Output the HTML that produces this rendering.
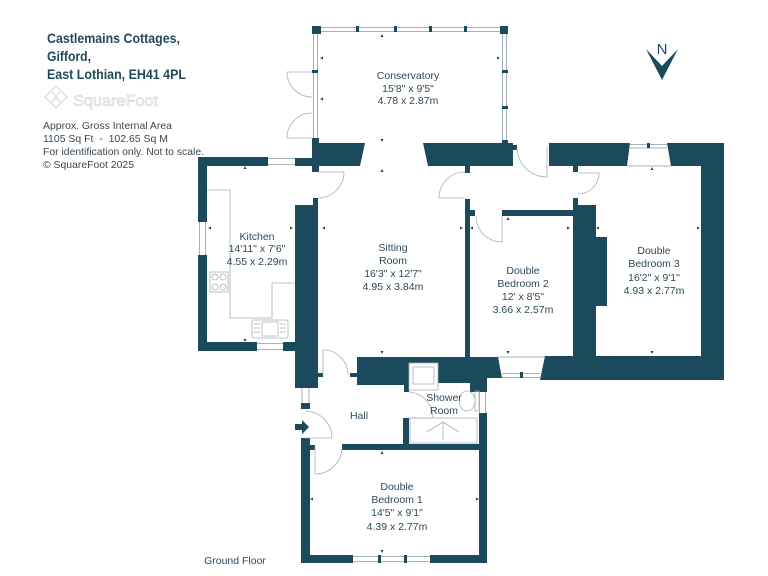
<!DOCTYPE html>
<html><head><meta charset="utf-8"><style>
html,body{margin:0;padding:0;background:#fff;}
svg{display:block;}
text{font-family:"Liberation Sans",Arial,sans-serif;}
.r{font-size:10.5px;fill:#2c4a59;text-anchor:middle;}
.s{font-size:10.5px;fill:#3a4852;}
.t{font-size:14px;font-weight:bold;fill:#1f4a5c;}
.d{fill:none;stroke:#a7b0b5;stroke-width:0.8;}
.g{fill:none;stroke:#8d9ba3;stroke-width:0.8;}
.w{fill:#1b4a5d;}
.k{fill:#1b4a5d;}
</style></head><body>
<svg width="768" height="576" viewBox="0 0 768 576" xmlns="http://www.w3.org/2000/svg">
<rect x="0" y="0" width="768" height="576" fill="#fff"/>

<!-- Title -->
<text class="t" x="47" y="43" textLength="133" lengthAdjust="spacingAndGlyphs">Castlemains Cottages,</text>
<text class="t" x="47" y="61" textLength="44" lengthAdjust="spacingAndGlyphs">Gifford,</text>
<text class="t" x="47" y="79" textLength="139" lengthAdjust="spacingAndGlyphs">East Lothian, EH41 4PL</text>

<!-- logo -->
<g fill="none" stroke="#d9dfe2" stroke-width="1.2">
<polygon points="56,86 67,97 56,108 45,97"/>
<polygon points="51,91 57,97 51,103 45,97"/>
<polygon points="61,91 67,97 61,103 55,97"/>
</g>
<text x="73" y="106" style="font-size:16px;fill:#f3f5f6;stroke:#d3dadd;stroke-width:0.7" textLength="85" lengthAdjust="spacingAndGlyphs">SquareFoot</text>

<text class="s" x="43" y="129" textLength="129" lengthAdjust="spacingAndGlyphs">Approx. Gross Internal Area</text>
<text class="s" x="43" y="142" textLength="125" lengthAdjust="spacingAndGlyphs" style="white-space:pre">1105 Sq Ft  -  102.65 Sq M</text>
<text class="s" x="43" y="155" textLength="161" lengthAdjust="spacingAndGlyphs">For identification only. Not to scale.</text>
<text class="s" x="43" y="168" textLength="91" lengthAdjust="spacingAndGlyphs">© SquareFoot 2025</text>

<!-- North -->
<text x="662" y="54" style="font-size:15px;fill:#1b4a5d;text-anchor:middle">N</text>
<polygon class="k" points="646,49 662,80 678,49 662,66"/>

<!-- ===== Conservatory ===== -->
<rect class="w" x="312" y="26" width="9" height="8"/>
<rect class="w" x="500" y="26" width="8" height="8"/>
<line class="g" x1="321" y1="27.5" x2="500" y2="27.5"/>
<line class="g" x1="321" y1="31.5" x2="500" y2="31.5"/>
<rect class="w" x="356" y="26" width="3" height="6"/>
<rect class="w" x="394" y="26" width="3" height="6"/>
<rect class="w" x="429" y="26" width="3" height="6"/>
<rect class="w" x="464" y="26" width="3" height="6"/>
<!-- left glazing -->
<line class="g" x1="313.5" y1="34" x2="313.5" y2="138"/>
<line class="g" x1="317.5" y1="34" x2="317.5" y2="138"/>
<rect class="w" x="312" y="70" width="6" height="3"/>
<!-- right glazing -->
<line class="g" x1="502.5" y1="34" x2="502.5" y2="141"/>
<line class="g" x1="506.5" y1="34" x2="506.5" y2="141"/>
<rect class="w" x="502" y="70" width="6" height="3"/>
<rect class="w" x="502" y="106" width="6" height="3"/>
<!-- double doors left -->
<path class="d" d="M287,72 L312,72 M287,72 A25,25 0 0 0 312,97"/>
<path class="d" d="M287,138 L312,138 M287,138 A25,25 0 0 1 312,113"/>

<!-- conservatory bottom walls -->
<polygon class="w" points="312,138 319,138 319,143 365,143 360,166 319,166 319,172 312,172 312,166 295,166 295,158 312,158"/>
<polygon class="w" points="423,143 502,143 502,140 508,140 508,143 513,143 513,145 517,145 517,150 513,150 513,166 470,166 470,173 465,173 465,166 428,166"/>
<polygon class="w" points="549,143 630,143 627,166 578,166 578,172 573,172 573,166 549,166"/>
<polygon class="w" points="667,143 724,143 724,166 671,166"/>
<!-- bedroom 3 top window -->
<line class="g" x1="630" y1="144.5" x2="667" y2="144.5"/>
<line class="g" x1="630" y1="148" x2="667" y2="148"/>
<rect class="w" x="647" y="143" width="3" height="5"/>
<line class="g" x1="627" y1="166" x2="671" y2="166"/>

<!-- right wall bedroom 3 -->
<rect class="w" x="701" y="143" width="23" height="237"/>
<!-- bottom wall bedroom 3 -->
<polygon class="w" points="545,356 724,356 724,380 540,380"/>
<!-- wall between bed 2 and 3 -->
<rect class="w" x="573" y="205" width="23" height="151"/>
<rect class="w" x="573" y="198" width="5" height="7"/>
<rect class="w" x="596" y="237" width="11" height="69"/>
<!-- bedroom 2 top wall -->
<rect class="w" x="502" y="210" width="71" height="6"/>
<rect class="w" x="470" y="210" width="5" height="6"/>
<!-- sitting / bedroom 2 wall -->
<rect class="w" x="465" y="199" width="5" height="158"/>
<!-- bedroom 2 bottom window -->
<line class="g" x1="502" y1="373.5" x2="540" y2="373.5"/>
<line class="g" x1="502" y1="377.5" x2="540" y2="377.5"/>
<rect class="w" x="520" y="372" width="3" height="6"/>
<line class="g" x1="498" y1="357" x2="545" y2="357"/>

<!-- sitting room bottom wall / shower room -->
<polygon class="w" points="357,357 498,357 502,378 487,378 487,392 470,392 470,383 438,383 438,363 409,363 409,392 404,392 404,385 357,385"/>
<rect x="409" y="363" width="29" height="27" fill="#fff" stroke="#a7b0b5" stroke-width="0.8"/>
<rect x="413" y="367" width="21" height="17" fill="none" stroke="#a7b0b5" stroke-width="0.8"/>
<!-- shower room right wall window -->
<line class="g" x1="479.5" y1="392" x2="479.5" y2="413"/>
<line class="g" x1="485.5" y1="392" x2="485.5" y2="413"/>
<rect class="w" x="479" y="413" width="8" height="150"/>
<!-- shower left lower wall -->
<rect class="w" x="403" y="418" width="6" height="28"/>
<!-- WC -->
<ellipse cx="467" cy="401" rx="8" ry="10" fill="none" stroke="#a7b0b5" stroke-width="0.8"/>
<rect x="475" y="391" width="4" height="20" fill="none" stroke="#a7b0b5" stroke-width="0.8"/>
<!-- shower tray -->
<rect x="410" y="418" width="67" height="25" fill="none" stroke="#a7b0b5" stroke-width="0.8"/>
<path class="d" d="M443,422 L427,432 M443,422 L459,432 M443,422 L443,440"/>
<!-- shower door -->
<path class="d" d="M409,418 L433,418 M409,392 A26,26 0 0 1 433,418"/>

<!-- bedroom 1 -->
<rect class="w" x="342" y="444" width="145" height="6"/>
<rect class="w" x="309" y="445" width="6" height="5"/>
<rect class="w" x="301" y="438" width="9" height="125"/>
<rect class="w" x="301" y="555" width="52" height="8"/>
<line class="g" x1="353" y1="556.5" x2="430" y2="556.5"/>
<line class="g" x1="353" y1="561.5" x2="430" y2="561.5"/>
<rect class="w" x="378" y="555" width="3" height="8"/>
<rect class="w" x="404" y="555" width="3" height="8"/>
<rect class="w" x="430" y="555" width="57" height="8"/>

<!-- hall left wall -->
<line class="g" x1="302" y1="387" x2="302" y2="403"/>
<line class="g" x1="309" y1="387" x2="309" y2="403"/>
<rect class="w" x="301" y="403" width="9" height="6"/>
<!-- entrance arrow -->
<polygon class="k" points="295,424 302,424 302,420 309,427 302,434 302,430 295,430"/>
<!-- entrance door -->
<path class="d" d="M305,438 L332,438 M305,411 A27,27 0 0 1 332,438"/>
<!-- bedroom 1 door -->
<path class="d" d="M315,447 L315,474 M315,474 A27,27 0 0 0 342,447"/>

<!-- thick wall kitchen/sitting -->
<rect class="w" x="295" y="205" width="23" height="183"/>
<rect class="w" x="313" y="198" width="5" height="7"/>
<rect class="w" x="318" y="373" width="5" height="4"/>
<rect class="w" x="350" y="373" width="7" height="4"/>
<!-- hall door -->
<path class="d" d="M323,375 L323,350 M323,350 A25,25 0 0 1 348,375"/>
<!-- kitchen door -->
<path class="d" d="M318,172 L344,172 M344,172 A26,26 0 0 1 318,198"/>
<!-- sitting top-right door -->
<path class="d" d="M439,198 L465,198 M465,172 A26,26 0 0 0 439,198"/>
<!-- corridor door -->
<path class="d" d="M547,147 L547,177 M517,147 A30,30 0 0 0 547,177"/>
<!-- bedroom 3 door -->
<path class="d" d="M578,173 L599,173 M599,173 A21,21 0 0 1 578,194"/>
<!-- bedroom 2 door -->
<path class="d" d="M502,216 L502,242 M476,216 A26,26 0 0 0 502,242"/>

<!-- ===== Kitchen ===== -->
<rect class="w" x="198" y="157" width="70" height="9"/>
<line class="g" x1="268" y1="158.5" x2="295" y2="158.5"/>
<line class="g" x1="268" y1="164.5" x2="295" y2="164.5"/>
<rect class="w" x="198" y="157" width="9" height="65"/>
<line class="g" x1="199.5" y1="222" x2="199.5" y2="255"/>
<line class="g" x1="205.5" y1="222" x2="205.5" y2="255"/>
<rect class="w" x="198" y="255" width="9" height="96"/>
<rect class="w" x="198" y="342" width="59" height="9"/>
<line class="g" x1="257" y1="343.5" x2="283" y2="343.5"/>
<line class="g" x1="257" y1="349.5" x2="283" y2="349.5"/>
<rect class="w" x="283" y="342" width="13" height="9"/>
<!-- counters -->
<path class="d" d="M207,190 L230,190 L230,318 L272,318 L272,283 L295,283"/>
<rect x="210" y="272" width="18" height="20" fill="#fff" stroke="#a7b0b5" stroke-width="0.8"/>
<circle cx="215" cy="277" r="3" class="d"/><circle cx="223" cy="277" r="3" class="d"/>
<circle cx="215" cy="287" r="3" class="d"/><circle cx="223" cy="287" r="3" class="d"/>
<rect x="252" y="320" width="36" height="18" rx="2" fill="#fff" stroke="#a7b0b5" stroke-width="0.8"/>
<rect x="262" y="322" width="16" height="14" fill="none" stroke="#a7b0b5" stroke-width="0.7"/>
<path class="d" d="M254,324 L260,324 M254,328 L260,328 M254,332 L260,332 M280,324 L286,324 M280,328 L286,328 M280,332 L286,332"/>

<!-- measurement ticks -->
<g class="k">
<polygon points="380.5,37 383.5,37 382,34"/>
<polygon points="380.5,139 383.5,139 382,142"/>
<polygon points="380.5,172 383.5,172 382,169"/>
<polygon points="323,56.5 323,59.5 320,58"/>
<polygon points="497,56.5 497,59.5 500,58"/>
<polygon points="323,97.5 323,100.5 320,99"/>
<polygon points="243.5,169 246.5,169 245,166"/>
<polygon points="243.5,339 246.5,339 245,342"/>
<polygon points="211,226.5 211,229.5 208,228"/>
<polygon points="290,226.5 290,229.5 293,228"/>
<polygon points="325,226.5 325,229.5 322,228"/>
<polygon points="460,226.5 460,229.5 463,228"/>
<polygon points="380.5,351 383.5,351 382,354"/>
<polygon points="473,226.5 473,229.5 470,228"/>
<polygon points="506.5,220 509.5,220 508,217"/>
<polygon points="567,226.5 567,229.5 570,228"/>
<polygon points="506.5,351 509.5,351 508,354"/>
<polygon points="650.5,170 653.5,170 652,167"/>
<polygon points="599,226.5 599,229.5 596,228"/>
<polygon points="697,226.5 697,229.5 700,228"/>
<polygon points="650.5,351 653.5,351 652,354"/>
<polygon points="380.5,454 383.5,454 382,451"/>
<polygon points="313,497.5 313,500.5 310,499"/>
<polygon points="476,497.5 476,500.5 479,499"/>
<polygon points="380.5,550 383.5,550 382,553"/>
</g>

<!-- Room labels -->
<text class="r" x="408" y="79">Conservatory</text>
<text class="r" x="408" y="92">15'8" x 9'5"</text>
<text class="r" x="408" y="104">4.78 x 2.87m</text>

<text class="r" x="257" y="240">Kitchen</text>
<text class="r" x="257" y="252">14'11" x 7'6"</text>
<text class="r" x="257" y="265">4.55 x 2.29m</text>

<text class="r" x="393" y="251">Sitting</text>
<text class="r" x="393" y="264">Room</text>
<text class="r" x="393" y="277">16'3" x 12'7"</text>
<text class="r" x="393" y="290">4.95 x 3.84m</text>

<text class="r" x="523" y="274">Double</text>
<text class="r" x="523" y="287">Bedroom 2</text>
<text class="r" x="523" y="300">12' x 8'5"</text>
<text class="r" x="523" y="313">3.66 x 2.57m</text>

<text class="r" x="654" y="254">Double</text>
<text class="r" x="654" y="267">Bedroom 3</text>
<text class="r" x="654" y="281">16'2" x 9'1"</text>
<text class="r" x="654" y="294">4.93 x 2.77m</text>

<text class="r" x="359" y="419">Hall</text>

<text class="r" x="444" y="401">Shower</text>
<text class="r" x="444" y="414">Room</text>

<text class="r" x="397" y="490">Double</text>
<text class="r" x="397" y="503">Bedroom 1</text>
<text class="r" x="397" y="516">14'5" x 9'1"</text>
<text class="r" x="397" y="530">4.39 x 2.77m</text>

<text class="r" x="235" y="564">Ground Floor</text>
</svg>
</body></html>
